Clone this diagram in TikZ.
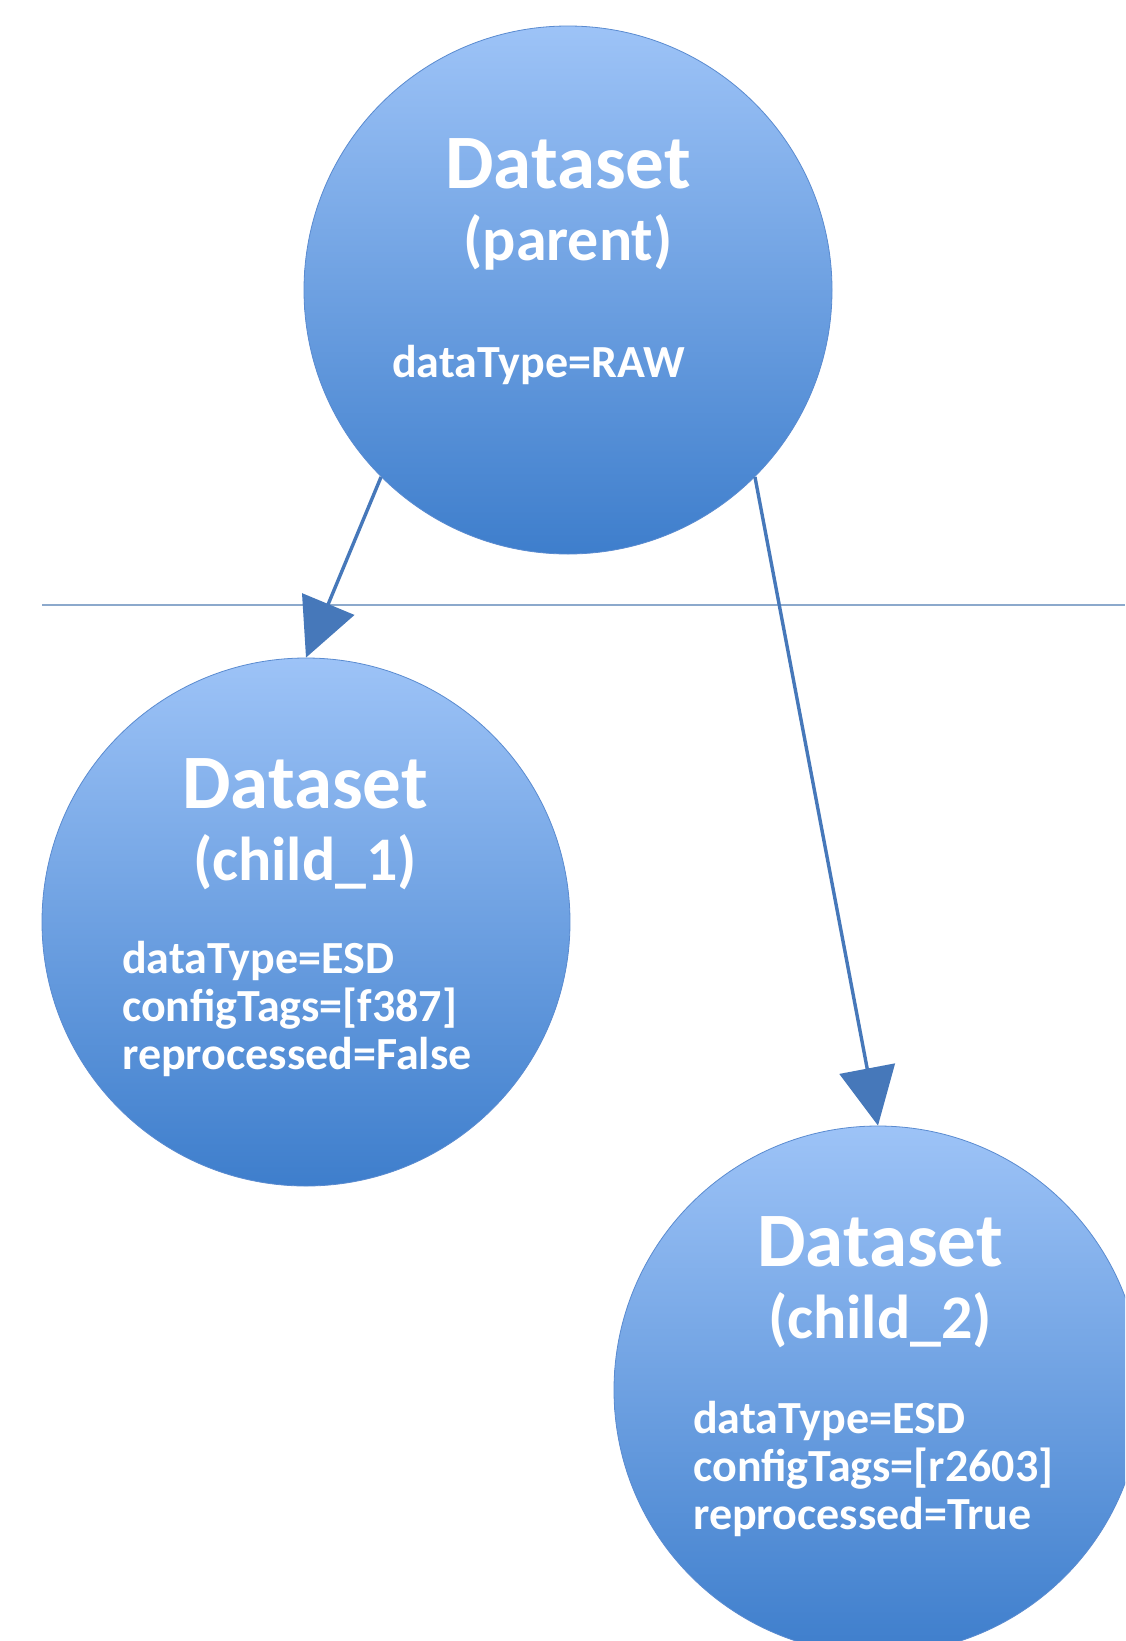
\documentclass[tikz,border=0pt]{standalone}
\usepackage{fontspec}
\setmainfont{Carlito}
\usetikzlibrary{arrows.meta,positioning}
\definecolor{ballTop}{HTML}{9DC3F7}
\definecolor{ballBot}{HTML}{3E7ECC}
\definecolor{ballEdge}{HTML}{5A8BD0}
\definecolor{linkBlue}{HTML}{4678BA}
\definecolor{ruleBlue}{HTML}{8CA9CC}
\newcommand{\subtitle}[1]{{\fontsize{62}{72}\selectfont #1}}
\tikzset{
  ball/.style={circle, minimum size=528pt, inner sep=0pt, draw=ballEdge, line width=0.8pt,
    top color=ballTop, bottom color=ballBot},
  title/.style={text=white, align=center, inner sep=0pt, font=\fontsize{77}{72}\selectfont\bfseries},
  body/.style={text=white, align=left, inner sep=0pt, font=\fontsize{46}{48}\selectfont\bfseries},
  link/.style={-{Triangle[length=58pt, width=56pt]}, line width=3.4pt, draw=linkBlue},
  rule/.style={draw=ruleBlue, line width=1.5pt},
}

\begin{document}
\begin{tikzpicture}[x=1pt, y=-1pt]
  \useasboundingbox (0,0) rectangle (1125,1641);
  \clip (0,0) rectangle (1125,1641);
  \fill[white] (0,0) rectangle (1125,1641);

  % separator
  \coordinate (ruleL) at (42,605);
  \coordinate (ruleR) at (1125,605);
  \draw[rule] (ruleL) -- (ruleR);

  % datasets
  \node[ball] (parent) at (568,290) {};
  \node[ball] (child1) at (306,922) {};
  \node[ball] (child2) at (878,1390) {};

  % base anchor sits on the last line
  \node[title, anchor=base] (parentTitle) at (568,260) {Dataset\\\subtitle{(parent)}};
  \node[body, anchor=base west] (parentInfo) at (392,377) {dataType=RAW};

  \node[title, anchor=base] (child1Title) at (305,880) {Dataset\\\subtitle{(child\_1)}};
  \node[body, anchor=base west] (child1Info) at (122,1069) {dataType=ESD\\configTags=[f387]\\reprocessed=False};

  \node[title, anchor=base] (child2Title) at (880,1338) {Dataset\\\subtitle{(child\_2)}};
  \node[body, anchor=base west] (child2Info) at (693,1529) {dataType=ESD\\configTags=[r2603]\\reprocessed=True};

  % derivation
  \draw[link] (parent.225) -- (child1.north);
  \draw[link] (parent.-45) -- (child2.north);
\end{tikzpicture}
\end{document}
